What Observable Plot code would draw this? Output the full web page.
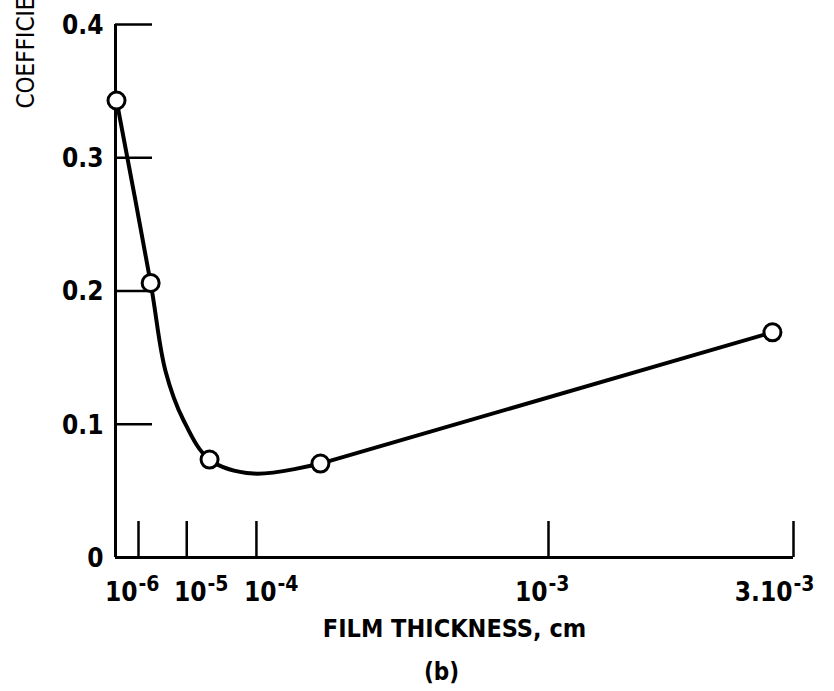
<!DOCTYPE html>
<html><head><meta charset="utf-8">
<script src="https://cdn.jsdelivr.net/npm/d3@7"></script>
<script src="https://cdn.jsdelivr.net/npm/@observablehq/plot@0.6"></script>
<style>body{margin:0;background:#fff}</style>
</head><body>
<script>
// measured points (film thickness in cm, friction coefficient)
const thickness = [4.8e-7, 1.5e-6, 1.07e-5, 1.44e-4, 2.73e-3];
const friction = [0.343, 0.206, 0.0735, 0.0705, 0.169];
// points (first part)
const curveThickness = [4.8e-7, 1.5e-6, 2.46e-6, 4.49e-6, 1.07e-5, 4.54e-5, 1.44e-4];
const curveFriction = [0.343, 0.206, 0.140, 0.103, 0.0735, 0.063, 0.0705];
// axes
const axisOrigin = 4.64e-7;
const yTicks = [0, 0.1, 0.2, 0.3, 0.4];
const yTickLabels = ["0", "0.1", "0.2", "0.3", "0.4"];
const xTickMarks = [1e-6, 5e-6, 5e-5, 1e-3, 3e-3];
const xLabelValues = [1e-6, 1e-5, 1e-4, 1e-3, 3e-3];
const xLabelBases = ["10", "10", "10", "10", "3.10"];
const xLabelExponents = ["-6", "-5", "-4", "-3", "-3"];
const xTitle = "FILM THICKNESS, cm";
const yTitle = "COEFFICIENT OF FRICTION";
const panel = "(b)";

const points = thickness.map((t, i) => ({t, f: friction[i]}));
const curvePts = curveThickness.map((t, i) => ({t, f: curveFriction[i]}));
const straight = points.slice(3);

const W = 834, H = 691;
const plot = Plot.plot({
  width: W, height: H,
  marginLeft: 115, marginRight: 41, marginTop: 24, marginBottom: 134,
  style: {fontFamily: "'DejaVu Sans Condensed', 'DejaVu Sans', sans-serif", fontSize: "26px", fontWeight: "bold", color: "black", background: "white"},
  x: {type: "log", domain: [axisOrigin, ...xLabelValues], range: [115, 138, 207, 277, 548, 793], axis: null},
  y: {domain: [0, 0.4], axis: null},
  marks: [
    Plot.ruleY([0], {stroke: "black", strokeWidth: 3}),
    Plot.ruleX([axisOrigin], {stroke: "black", strokeWidth: 3}),
    Plot.tickY(yTicks.slice(1), {y: d => d, insetRight: 641, stroke: "black", strokeWidth: 2.5}),
    Plot.tickX(xTickMarks, {x: d => d, insetTop: 497, stroke: "black", strokeWidth: 2.5}),
    Plot.text(yTicks, {y: d => d, text: (d, i) => yTickLabels[i], frameAnchor: "left", lineAnchor: "middle", textAnchor: "end", dx: -12, dy: 1}),
    Plot.text(xLabelValues, {x: d => d, text: (d, i) => xLabelBases[i], frameAnchor: "bottom", lineAnchor: "middle", textAnchor: "end", dx: -1, dy: 35, fontSize: 26}),
    Plot.text(xLabelValues, {x: d => d, text: (d, i) => xLabelExponents[i], frameAnchor: "bottom", lineAnchor: "middle", textAnchor: "start", dx: 0, dy: 27, fontSize: 21}),
    Plot.text([xTitle], {text: d => d, frameAnchor: "bottom", lineAnchor: "middle", dy: 71, fontSize: 25}),
    Plot.text([panel], {text: d => d, frameAnchor: "bottom", lineAnchor: "middle", dx: -13, dy: 115, fontSize: 24}),
    Plot.text([yTitle], {text: d => d, frameAnchor: "top-left", lineAnchor: "middle", rotate: -90, textAnchor: "start", dx: -89, dy: 84, fontSize: 24, fontWeight: "normal"}),
    Plot.line(curvePts, {x: "t", y: "f", curve: "catmull-rom", stroke: "black", strokeWidth: 4}),
    Plot.line(straight, {x: "t", y: "f", stroke: "black", strokeWidth: 4}),
    Plot.dot(points, {x: "t", y: "f", r: 8.5, fill: "white", stroke: "black", strokeWidth: 3})
  ]
});
document.body.appendChild(plot);
</script>
</body></html>
